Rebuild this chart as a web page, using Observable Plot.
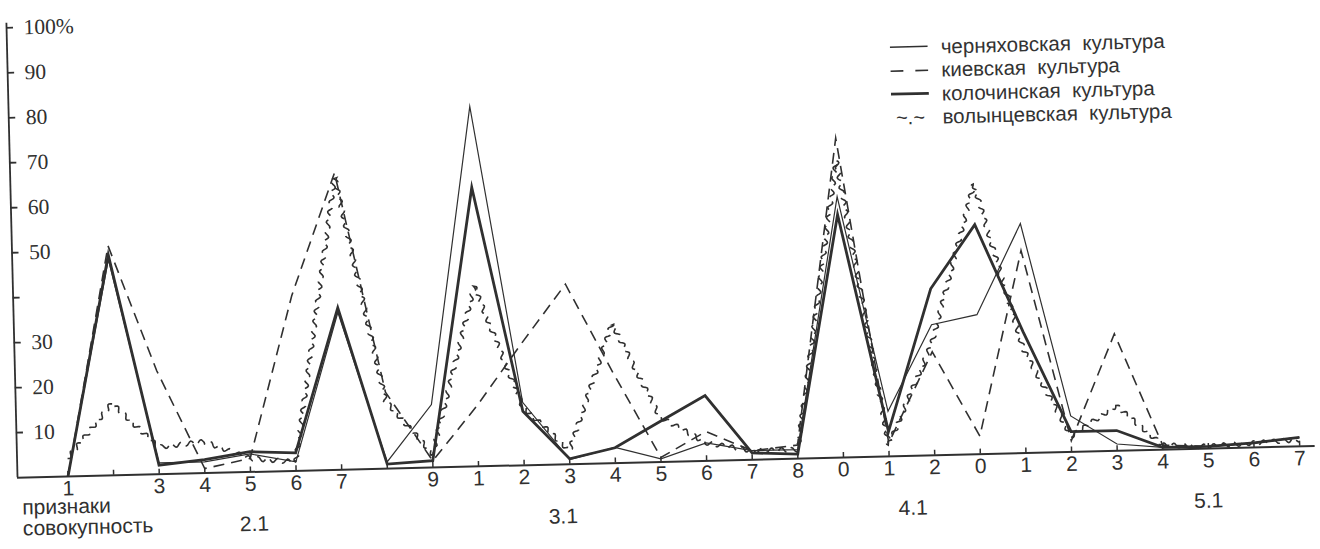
<!DOCTYPE html>
<html><head><meta charset="utf-8">
<script src="https://cdn.jsdelivr.net/npm/d3@7"></script>
<script src="https://cdn.jsdelivr.net/npm/@observablehq/plot@0.6"></script>
<style>
html,body{margin:0;padding:0;background:#fff;overflow:hidden;}
#wrap{position:relative;width:1320px;height:549px;transform:rotate(-1.4deg);transform-origin:65px 476px;}
#legend{position:absolute;left:900px;top:56px;font-family:"Liberation Sans",Arial,sans-serif;font-size:20.5px;color:#333;}
.row{display:flex;align-items:center;height:23.5px;}
.row .sw{width:38px;height:23px;flex:none;display:flex;align-items:center;justify-content:center;font-size:20px;}
.row span.t{margin-left:13px;white-space:pre;}
</style></head><body>
<div id="wrap"><div id="chart"></div><div id="legend"></div></div>
<script>
// ---- data ----
const xLabels = ["1","","3","4","5","6","7","","9","1","2","3","4","5","6","7","8","0","1","2","0","1","2","3","4","5","6","7"];
const cultures = ["черняховская  культура","киевская  культура","колочинская  культура","волынцевская  культура"];
const chernyakhov = [0,48,2.5,2.5,4,2,35,1.5,14,80,14,1,3.5,0.7,4,2,2,58,10,29,31,51,8,1.5,0.5,0.5,1,2];
const kiev        = [0,51,23,1,3,39,66,17,1.5,13.5,27,40,20,1,6.5,2,3,71,3,23,4,45,2.5,26,1,0.5,1,2];
const kolochin    = [0,49,2,3,4.5,4,36,1,1.5,62,12,1.2,3.4,9,14.5,1.5,1,54,5.5,37,51,27,4.5,4.5,0.5,0.5,1,2];
const volyntsev   = [4,16,6,7,3,2,65,15,3,40,13,3,31,10,4,2,2,66,2.5,25,60,23,3.5,10,1,0.5,1,1.5];
const yTicks = [10,20,30,40,50,60,70,80,90,100];
const yLabels = ["10","20","30","","50","60","70","80","90","100%"];
const groupLabels = ["2.1","3.1","4.1","5.1"];
const groupAt = [4.06, 10.83, 18.5, 24.98];

const seriesValues = [chernyakhov, kiev, kolochin, volyntsev];
const idx = xLabels.map((_, i) => i);
const data = cultures.flatMap((c, k) => seriesValues[k].map((v, i) => ({culture: c, i, v})));

// x domain such that index 0 sits at 67.5px and spacing is 45.63px inside a frame 17..1315
const W = 1320, H = 549, mL = 17, mR = 5, mT = 26, mB = 73;
const step = 45.63, x0px = 67.5;
const xDomain = [(mL - x0px) / step, (W - mR - x0px) / step];
const frameW = W - mL - mR, frameH = H - mT - mB;

function wavy(context) {
  let px, py, started, s0 = 0;
  return {
    areaStart() {}, areaEnd() {},
    lineStart() { started = false; s0 = 0; },
    lineEnd() {},
    point(x, y) {
      x = +x; y = +y;
      if (!started) { context.moveTo(x, y); started = true; }
      else {
        const dx = x - px, dy = y - py, len = Math.hypot(dx, dy) || 1;
        const n = Math.max(1, Math.round(len / 1.2));
        const ux = dx / len, uy = dy / len;
        for (let k = 1; k <= n; k++) {
          const t = k / n, s = s0 + t * len;
          const off = 2.2 * Math.sin(s / 10 * 2 * Math.PI);
          context.lineTo(px + dx * t - uy * off, py + dy * t + ux * off);
        }
        s0 += len;
      }
      px = x; py = y;
    }
  };
}

const ink = "#303030";
const styles = [
  {strokeWidth: 1.2},
  {strokeWidth: 1.6, strokeDasharray: "11,7"},
  {strokeWidth: 2.8},
  {strokeWidth: 1.6, strokeDasharray: "11,6", curve: wavy}
];

const chart = Plot.plot({
  width: W, height: H,
  marginLeft: mL, marginRight: mR, marginTop: mT, marginBottom: mB,
  x: {domain: xDomain, axis: null, label: null},
  y: {domain: [0, 100], axis: null, label: null},
  style: {fontFamily: "'Liberation Sans', Arial, sans-serif", fontSize: "21px", color: ink, background: "transparent", overflow: "visible"},
  marks: [
    Plot.ruleY([0], {stroke: ink, strokeWidth: 2}),
    Plot.ruleX([xDomain[0]], {y1: 0, y2: 101, stroke: ink, strokeWidth: 1.8}),
    Plot.tickY(yTicks, {y: d => d, insetRight: frameW - 7, stroke: ink, strokeWidth: 1.8}),
    Plot.text(yTicks, {y: d => d, text: (d, i) => yLabels[i], frameAnchor: "left", dx: 17, textAnchor: "start",
      fontSize: 21.5, fontFamily: "'Liberation Serif', 'Times New Roman', serif", fill: ink}),
    Plot.tickX(idx, {x: d => d, insetTop: frameH - 5, stroke: ink, strokeWidth: 1.5}),
    Plot.axisX(idx, {anchor: "bottom", tickSize: 0, tickPadding: 4, label: null, tickFormat: i => xLabels[i], fontSize: 21, fill: ink}),
    ...cultures.map((c, k) => Plot.line(data.filter(d => d.culture === c), {
      x: "i", y: "v", stroke: ink, strokeLinejoin: "miter", strokeMiterlimit: 12, strokeLinecap: "butt", ...styles[k]
    })),
    Plot.text(["признаки"], {frameAnchor: "bottom-left", dx: 4, dy: 37, textAnchor: "start", fontSize: 21, fill: ink}),
    Plot.text(["совокупность"], {frameAnchor: "bottom-left", dx: 4, dy: 58, textAnchor: "start", fontSize: 21, fill: ink}),
    Plot.text(groupLabels, {x: groupAt, frameAnchor: "bottom", dy: 59, fontSize: 21, fill: ink})
  ]
});
document.getElementById("chart").appendChild(chart);

// legend
const legend = document.getElementById("legend");
const swatch = [
  `<svg width="38" height="23"><line x1="0" y1="11.5" x2="38" y2="11.5" stroke="${ink}" stroke-width="1.4"/></svg>`,
  `<svg width="38" height="23"><line x1="0" y1="11.5" x2="38" y2="11.5" stroke="${ink}" stroke-width="1.6" stroke-dasharray="13,12"/></svg>`,
  `<svg width="38" height="23"><line x1="0" y1="11.5" x2="38" y2="11.5" stroke="${ink}" stroke-width="2.8"/></svg>`,
  `<span>~.~</span>`
];
cultures.forEach((c, k) => {
  const row = document.createElement("div");
  row.className = "row";
  row.innerHTML = `<div class="sw">${swatch[k]}</div><span class="t">${c}</span>`;
  legend.appendChild(row);
});
</script>
</body></html>
